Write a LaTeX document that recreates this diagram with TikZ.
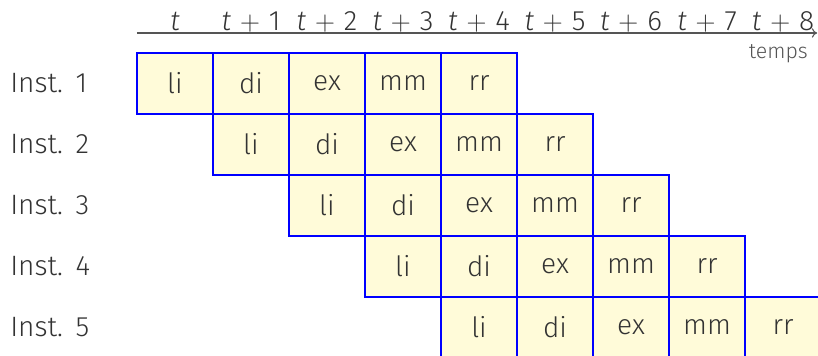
\documentclass[tikz,border=0pt]{standalone}
\usepackage{fontspec}
\setmainfont{Fira Sans}[UprightFont=* Light, ItalicFont=* Light Italic]
\usepackage{tikz}
\usetikzlibrary{arrows.meta, positioning}
\definecolor{CellFill}{HTML}{FFFBD9}
\definecolor{CellBlue}{HTML}{0000FF}
\definecolor{AxisGray}{HTML}{555555}
\definecolor{InkGray}{HTML}{333333}

\tikzset{
  stagebox/.style={draw=CellBlue, fill=CellFill, line width=1.5pt, minimum width=57pt, minimum height=45.75pt, inner sep=0pt, text=InkGray},
  instlabel/.style={anchor=west, inner sep=0pt, text=InkGray},
  ticklabel/.style={anchor=base, inner sep=0pt, text=InkGray},
}

\begin{document}
\begin{tikzpicture}[x=57pt, y=-45.75pt, >={To[length=4pt, width=7pt]}, font=\fontsize{21pt}{24pt}\selectfont]
    \useasboundingbox (-1.8026, -0.8689) rectangle (8.9605, 4.9508);

    % Time axis
    \coordinate (axisstart) at (0, -0.328);
    \coordinate (axisend) at (8.95, -0.328);
    \draw[color=AxisGray, line width=0.8pt, ->] (axisstart) -- (axisend);
    \node[ticklabel] (tick0) at (0.5, -0.377) {\textit{t}};
    \foreach \n in {1,...,8}
        \node[ticklabel] (tick\n) at (\n+0.5, -0.377) {\textit{t}\hspace{0.1em}${}+{}$\hspace{0.1em}\n};
    \node[anchor=base east, inner sep=0pt, text=AxisGray, font=\fontsize{16pt}{18pt}\selectfont] (temps) at (8.83, 0.098) {temps};

    % Instructions in the pipeline
    \foreach \i in {1,...,5} {
        \node[instlabel] (inst\i) at (-1.671, \i-0.5) {Inst.\hspace{0.45em}\i};
        \foreach \st [count=\k from 0] in {li,di,ex,mm,rr} {
            \pgfmathtruncatemacro{\j}{\i+\k-1}
            \node[stagebox] (cell\i-\k) at (\j+0.5, \i-0.5) {\st};
        }
    }
\end{tikzpicture}
\end{document}
